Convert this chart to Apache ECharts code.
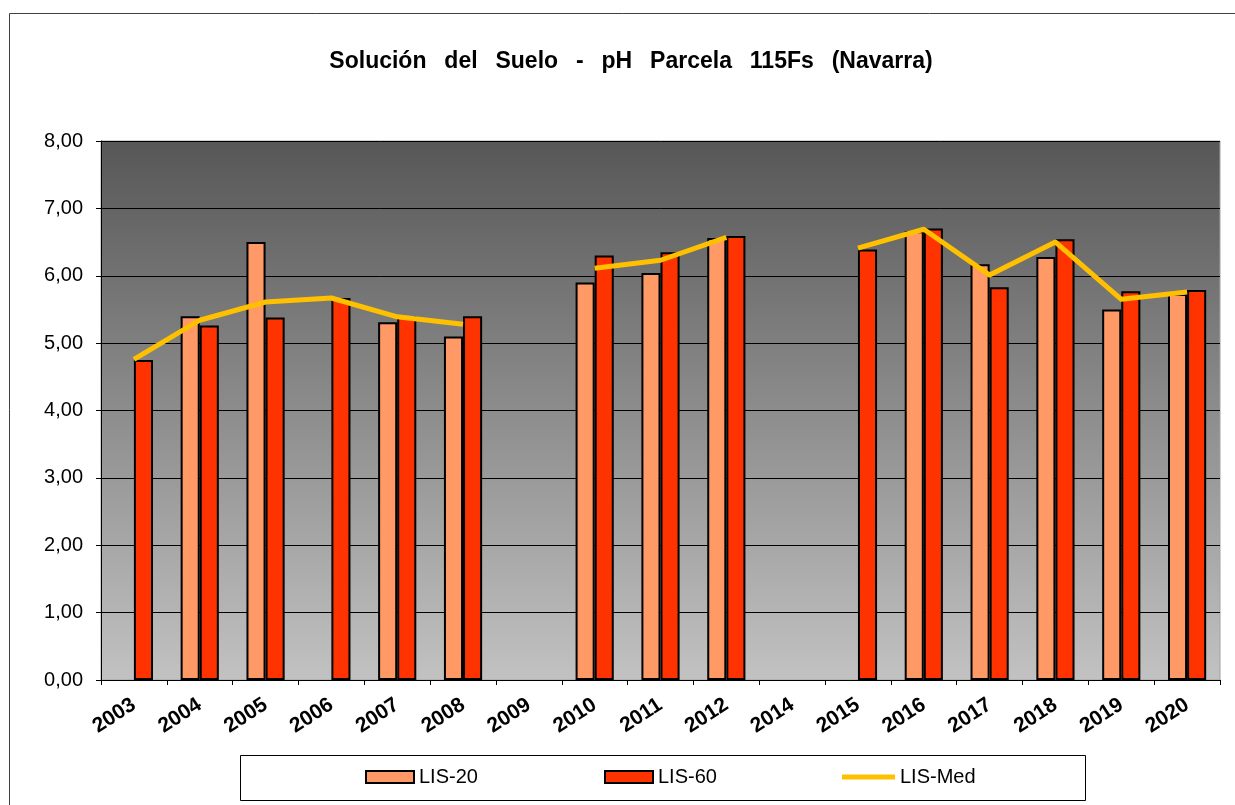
<!DOCTYPE html>
<html>
<head>
<meta charset="utf-8">
<title>Solución del Suelo - pH Parcela 115Fs (Navarra)</title>
<script src="https://cdn.jsdelivr.net/npm/echarts@6/dist/echarts.min.js"></script>
<style>
  html, body { margin: 0; padding: 0; background: #ffffff; }
  #chart { width: 1235px; height: 805px; }
</style>
</head>
<body>
<div id="chart"></div>
<script>
// Campaign years (2013 was not sampled)
const years = ['2003', '2004', '2005', '2006', '2007', '2008', '2009', '2010', '2011',
               '2012', '2014', '2015', '2016', '2017', '2018', '2019', '2020'];

// Soil solution pH by lysimeter depth
const lis20 = [null, 5.40, 6.50, null, 5.31, 5.10, null, 5.90, 6.04,
               6.56, null, null, 6.66, 6.17, 6.28, 5.50, 5.73];
const lis60 = [4.75, 5.26, 5.38, 5.67, 5.40, 5.40, null, 6.30, 6.35,
               6.59, null, 6.39, 6.70, 5.83, 6.54, 5.77, 5.79];
const lisMed = [4.76, 5.34, 5.61, 5.67, 5.39, 5.28, null, 6.11, 6.23,
                6.57, null, 6.41, 6.69, 6.01, 6.50, 5.65, 5.76];

const yTicks = { min: 0, max: 8, step: 1 };
const titleWords = ['Solución', 'del', 'Suelo', '-', 'pH', 'Parcela', '115Fs', '(Navarra)'];

const FONT = '"Liberation Sans", Arial, sans-serif';
const C20 = '#ff9966';
const C60 = '#ff3300';
const CMED = '#ffc000';

const chart = echarts.init(document.getElementById('chart'), null, { renderer: 'canvas' });

const legendText = { fontFamily: FONT, fontSize: 20, color: '#000' };

const option = {
  backgroundColor: '#ffffff',
  animation: false,
  title: {
    // words set with wide spacing
    text: titleWords.join('\u2002 '),
    left: 626,
    top: 45,
    textAlign: 'center',
    textStyle: { fontFamily: FONT, fontSize: 23, fontWeight: 'bold', color: '#000' }
  },
  graphic: [
    {
      type: 'rect', silent: true, z: -10,
      shape: { x: 9.5, y: 13.5, width: 1400, height: 1000 },
      style: { fill: null, stroke: '#404040', lineWidth: 1 }
    },
    {
      type: 'rect', silent: true, z: -5,
      shape: { x: 240.5, y: 755.5, width: 845, height: 45 },
      style: { fill: '#ffffff', stroke: '#000000', lineWidth: 1 }
    }
  ],
  legend: [
    {
      data: [{ name: 'LIS-20', itemStyle: { color: C20, borderColor: '#000', borderWidth: 2 } }],
      left: 365, top: 767, padding: 0, itemWidth: 48, itemHeight: 12, icon: 'rect',
      textStyle: legendText
    },
    {
      data: [{ name: 'LIS-60', itemStyle: { color: C60, borderColor: '#000', borderWidth: 2 } }],
      left: 604, top: 767, padding: 0, itemWidth: 48, itemHeight: 12, icon: 'rect',
      textStyle: legendText
    },
    {
      data: [{ name: 'LIS-Med', icon: 'rect', itemStyle: { color: CMED, borderWidth: 0 } }],
      left: 842, top: 767, padding: 0, itemWidth: 53, itemHeight: 5,
      textStyle: legendText
    }
  ],
  grid: {
    left: 101, right: 15, top: 141, bottom: 125,
    show: true,
    borderColor: '#a0a0a0',
    borderWidth: 1,
    backgroundColor: {
      type: 'linear', x: 0, y: 0, x2: 0, y2: 1,
      colorStops: [
        { offset: 0, color: '#575757' },
        { offset: 1, color: '#c2c2c2' }
      ]
    }
  },
  xAxis: {
    type: 'category',
    data: years,
    boundaryGap: true,
    axisLine: { show: true, lineStyle: { color: '#000', width: 1 } },
    axisTick: { show: true, alignWithLabel: false, length: 5, inside: false, lineStyle: { color: '#000' } },
    axisLabel: {
      rotate: 33, margin: 23, interval: 0,
      fontFamily: FONT, fontSize: 21, fontWeight: 'bold', color: '#000'
    },
    splitLine: { show: false }
  },
  yAxis: {
    type: 'value',
    min: yTicks.min, max: yTicks.max, interval: yTicks.step,
    axisLine: { show: true, lineStyle: { color: '#000', width: 1 } },
    axisTick: { show: true, length: 5, inside: false, lineStyle: { color: '#000' } },
    axisLabel: {
      margin: 18,
      fontFamily: FONT, fontSize: 20, color: '#000',
      formatter: v => v.toFixed(2).replace('.', ',')
    },
    splitLine: { show: true, lineStyle: { color: '#000', width: 1 } }
  },
  series: [
    {
      name: 'LIS-20', type: 'bar', data: lis20,
      barGap: '0%', barCategoryGap: '42%',
      itemStyle: { color: C20, borderColor: '#000', borderWidth: 2 }
    },
    {
      name: 'LIS-60', type: 'bar', data: lis60,
      barGap: '0%', barCategoryGap: '42%',
      itemStyle: { color: C60, borderColor: '#000', borderWidth: 2 }
    },
    {
      name: 'LIS-Med', type: 'line', data: lisMed,
      showSymbol: false, symbol: 'none', connectNulls: false, z: 5,
      lineStyle: { color: CMED, width: 5, cap: 'butt', join: 'round' },
      itemStyle: { color: CMED }
    }
  ]
};

chart.setOption(option);
</script>
</body>
</html>
